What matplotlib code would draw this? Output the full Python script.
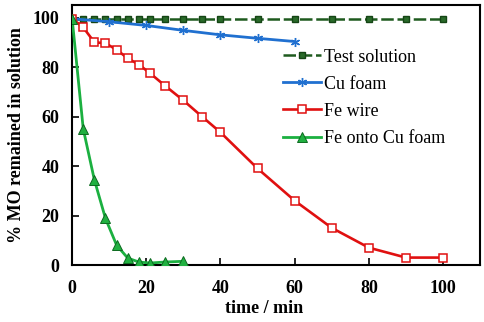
import numpy as np
import matplotlib.pyplot as plt

# data
t_test = [0, 3, 6, 9, 12, 15, 18, 21, 25, 30, 35, 40, 50, 60, 70, 80, 90, 100]
y_test = [99.6] * len(t_test)

t_cu = [0, 10, 20, 30, 40, 50, 60]
y_cu = [99.5, 98.3, 96.8, 94.8, 93.0, 91.6, 90.3]

t_fe = [0, 3, 6, 9, 12, 15, 18, 21, 25, 30, 35, 40, 50, 60, 70, 80, 90, 100]
y_fe = [99.6, 96, 90, 89.6, 87, 83.5, 81, 77.5, 72.5, 66.5, 60, 53.6, 39, 26, 15, 7, 3, 3]

t_fecu = [0, 3, 6, 9, 12, 15, 18, 21, 25, 30]
y_fecu = [99.6, 55, 34.4, 18.8, 8, 2.8, 1.2, 0.8, 1.2, 1.5]

plt.rcParams['font.family'] = ['Liberation Serif', 'DejaVu Serif']

fig, ax = plt.subplots(figsize=(4.84, 3.22), dpi=100)
fig.subplots_adjust(left=0.149, right=0.992, top=0.984, bottom=0.177)

ax.plot(t_test, y_test, color='#1e5a1e', ls=(0, (5, 1.5)), lw=1.8, marker='s', ms=4.2,
        mfc='#2a6a2a', mec='#154515', label='Test solution', zorder=3)
ax.plot(t_cu, y_cu, color='#2070d0', lw=2, marker=(6, 2, 0), ms=6.5, mec='#2070d0',
        label='Cu foam', zorder=3)
ax.plot(t_fe, y_fe, color='#e01010', lw=1.9, marker='s', ms=5.8, mfc='white',
        mec='#e01010', mew=1.1, label='Fe wire', zorder=3)
ax.plot(t_fecu, y_fecu, color='#1bb040', lw=2, marker='^', ms=7, mfc='#20b040',
        mec='#0c6a20', mew=0.7, label='Fe onto Cu foam', zorder=4)

ax.set_xlim(0, 110)
ax.set_ylim(0, 105)
ax.set_xticks([0, 20, 40, 60, 80, 100])
ax.set_yticks([0, 20, 40, 60, 80, 100])
ax.tick_params(direction='in', length=5, width=1.2, labelsize=13)
ax.tick_params(axis='x', pad=11)
ax.tick_params(axis='y', pad=9)
for lab in ax.get_xticklabels() + ax.get_yticklabels():
    lab.set_fontweight('bold')
for s in ax.spines.values():
    s.set_linewidth(1.5)

ax.set_xlabel('time / min', fontsize=13, fontweight='bold', labelpad=3)
ax.xaxis.set_label_coords(0.47, -0.135)
ax.set_ylabel('% MO remained in solution', fontsize=13, fontweight='bold', labelpad=6)

ax.legend(loc='upper left', bbox_to_anchor=(0.518, 0.833), frameon=False, fontsize=13,
          handlelength=2.1, handletextpad=0.15, labelspacing=0.56, borderaxespad=0,
          borderpad=0)

fig.savefig('out.png', dpi=100)
